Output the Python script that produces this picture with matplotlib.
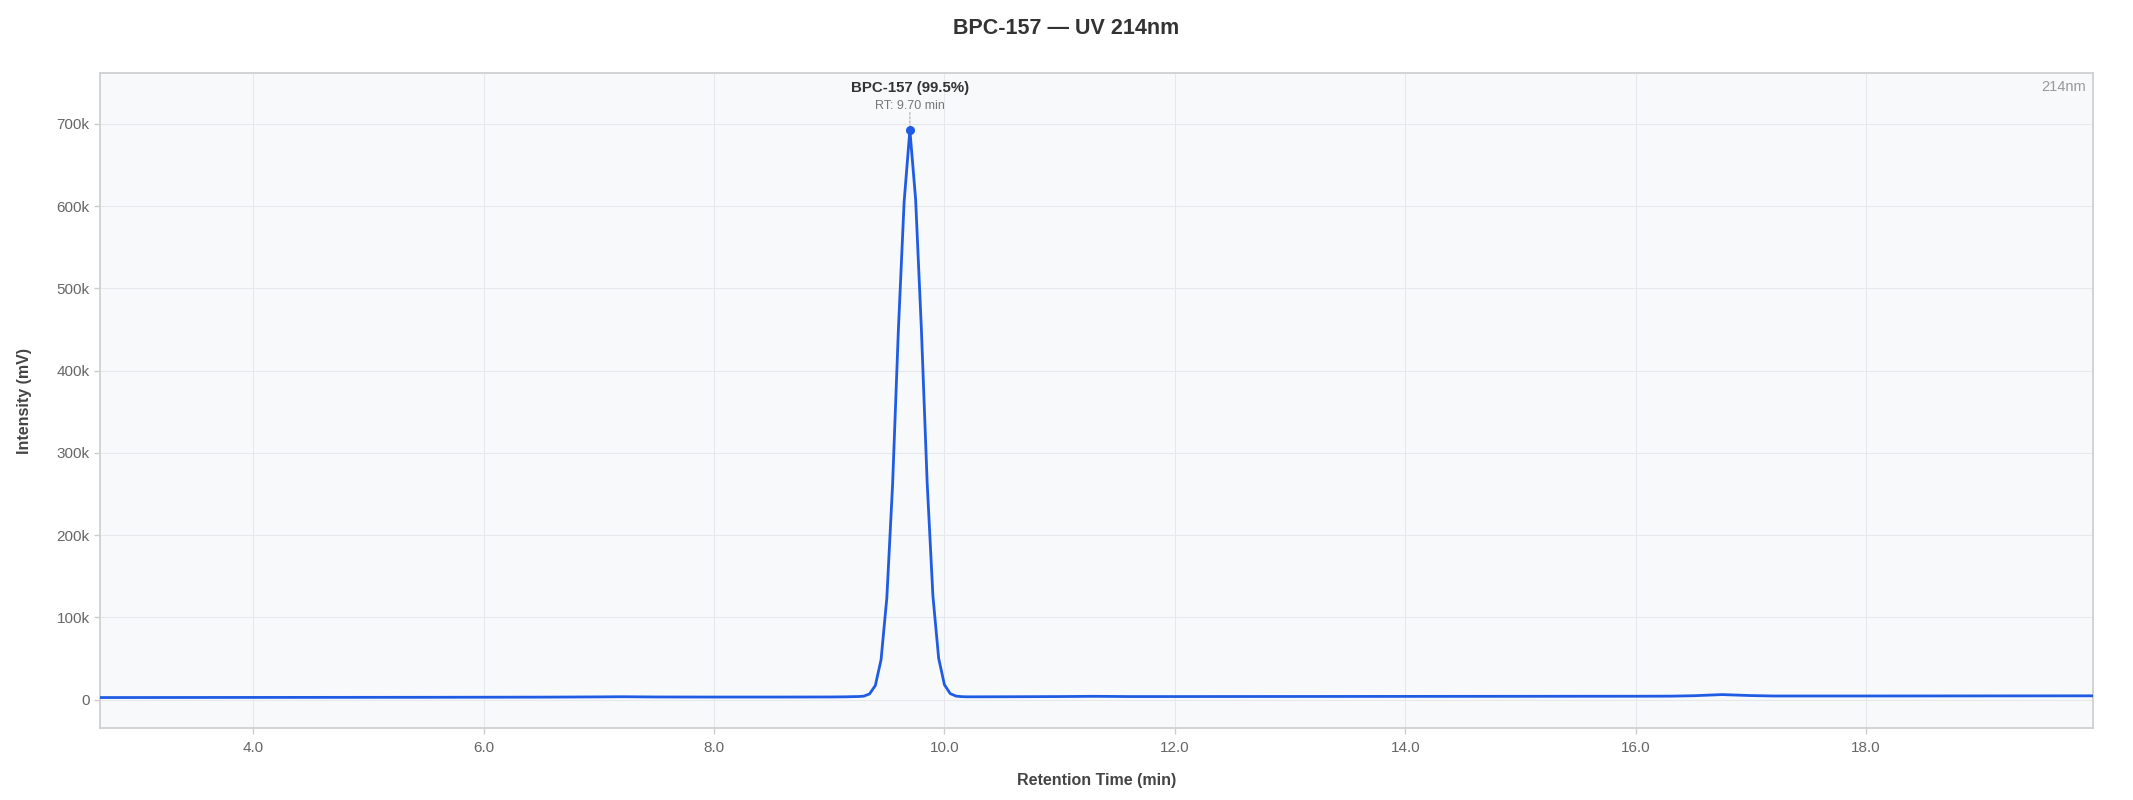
import matplotlib
matplotlib.use("Agg")
import matplotlib.pyplot as plt
from matplotlib.ticker import FuncFormatter

plt.rcParams['font.family'] = ['Liberation Sans', 'DejaVu Sans']

# retention time (min) and detector signal (mV)
rt = [2.67, 3.5, 4.5, 5.5, 6.5, 7.0, 7.2, 7.5, 8.0, 8.5, 9.0, 9.15,
      9.20, 9.25, 9.30, 9.35, 9.40, 9.45, 9.50, 9.55, 9.60, 9.65,
      9.70, 9.75, 9.80, 9.85, 9.90, 9.95, 10.00, 10.05, 10.10, 10.15,
      10.20, 10.30, 10.60, 11.0, 11.3, 11.6, 12.0, 13.0, 14.0, 15.0,
      16.0, 16.3, 16.5, 16.75, 17.0, 17.2, 18.0, 19.0, 19.97]
signal = [2400, 2500, 2600, 2700, 2900, 3200, 3400, 3100, 3000, 3000, 3100, 3300,
          3500, 3600, 4100, 6800, 17000, 48500, 123600, 261400, 448700, 605000,
          692600, 608000, 450000, 264000, 126000, 50000, 18000, 7200, 4200, 3500,
          3300, 3300, 3400, 3600, 3900, 3600, 3600, 3700, 3800, 3900,
          4000, 4100, 4600, 6000, 4800, 4300, 4300, 4400, 4500]

peak_name = "BPC-157"
peak_purity = 99.5
peak_rt = 9.70
peak_height = 692600
wavelength = "214nm"

x_ticks = [4.0, 6.0, 8.0, 10.0, 12.0, 14.0, 16.0, 18.0]
y_ticks = [0, 100000, 200000, 300000, 400000, 500000, 600000, 700000]

line_color = "#1f5ce3"

fig = plt.figure(figsize=(21.33, 8), dpi=100)
ax = fig.add_axes([100 / 2133, 72 / 800, 1993 / 2133, 655 / 800])
ax.set_facecolor("#f8f9fb")

ax.plot(rt, signal, color=line_color, lw=2.0, zorder=3)
ax.plot([peak_rt], [peak_height], "o", color=line_color, ms=5.5, zorder=4)

# dotted guide + labels above the peak
ax.annotate("", xy=(peak_rt, peak_height), xytext=(0, 12.5), textcoords="offset points",
            arrowprops=dict(arrowstyle="-", linestyle=(0, (1.5, 1.5)), color="#bbbbbb", lw=1.0,
                            shrinkA=0, shrinkB=3))
ax.annotate(f"{peak_name} ({peak_purity}%)", xy=(peak_rt, peak_height), xytext=(0, 30.5),
            textcoords="offset points", ha="center", va="center",
            fontsize=10.8, fontweight="bold", color="#333333")
ax.annotate(f"RT: {peak_rt:.2f} min", xy=(peak_rt, peak_height), xytext=(0, 17.5),
            textcoords="offset points", ha="center", va="center",
            fontsize=9.0, color="#777777")

ax.text(0.9965, 0.9786, wavelength, transform=ax.transAxes, ha="right", va="center",
        fontsize=10.5, color="#999999")

ymax = max(signal)
ax.set_xlim(rt[0], rt[-1])
ax.set_ylim(-0.05 * ymax, 1.1 * ymax)
ax.set_xticks(x_ticks)
ax.set_yticks(y_ticks)
ax.xaxis.set_major_formatter(FuncFormatter(lambda v, p: f"{v:.1f}"))
ax.yaxis.set_major_formatter(FuncFormatter(lambda v, p: "0" if v == 0 else f"{v / 1000:.0f}k"))

ax.grid(True, color="#e6e8ec", lw=0.8)
ax.set_axisbelow(True)
for s in ax.spines.values():
    s.set_color("#d0d0d0")
    s.set_linewidth(1.3)

ax.tick_params(axis="both", colors="#cccccc", labelcolor="#666666", labelsize=11,
               length=4.5, width=1.0)
ax.tick_params(axis="x", pad=5)
ax.tick_params(axis="y", pad=3)

ax.set_xlabel("Retention Time (min)", fontsize=11.5, fontweight="bold", color="#444444", va="center")
ax.set_ylabel("Intensity (mV)", fontsize=11.5, fontweight="bold", color="#444444", va="center")
ax.xaxis.set_label_coords(0.5, (728 - 780) / 655)
ax.yaxis.set_label_coords((25 - 100) / 1993, 0.5)

fig.text(0.5, 1 - 28 / 800, f"{peak_name} — UV {wavelength}", ha="center", va="center",
         fontsize=15.5, fontweight="bold", color="#333333")

fig.savefig("out.png", dpi=100, facecolor="white")
